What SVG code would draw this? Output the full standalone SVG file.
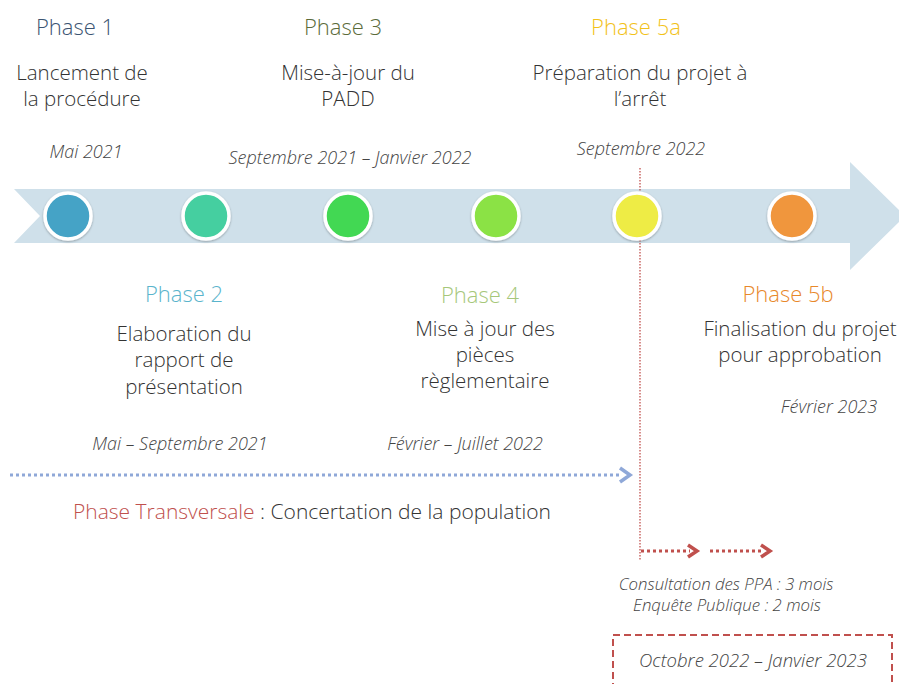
<svg xmlns="http://www.w3.org/2000/svg" width="899" height="684" viewBox="0 0 899 684">
<style>
text{font-family:"Open Sans","Noto Sans","Liberation Sans",sans-serif;text-anchor:middle;font-weight:300;}
.ph{font-size:22px;}
.body{font-size:20.5px;fill:#333;}
.date{font-size:18px;font-style:italic;fill:#444;}
.small{font-size:16.8px;}
.big{font-size:21px;}
.node{stroke:#fff;stroke-width:3.5;}
</style>
<defs>
<filter id="sh" x="-30%" y="-30%" width="160%" height="160%">
<feDropShadow dx="0" dy="1" stdDeviation="1.2" flood-color="#000" flood-opacity="0.3"/>
</filter>
</defs>
<rect width="899" height="684" fill="#fff"/>
<polygon id="band" points="14,189 850,189 850,162 905,216 850,270 850,243 14,243 40,216" fill="#cfe0ea"/>
<g id="connectors">
<line x1="640" y1="168" x2="640" y2="560" stroke="#c0504d" stroke-width="1.3" stroke-dasharray="1.5,1.5"/>
<line x1="10" y1="475" x2="620" y2="475" stroke="#8fa8d8" stroke-width="3" stroke-dasharray="3,3"/>
<polyline points="620,468 630,475 620,482" fill="none" stroke="#8fa8d8" stroke-width="3.5"/>
<line x1="641" y1="551" x2="690" y2="551" stroke="#c0504d" stroke-width="3" stroke-dasharray="3,3"/>
<polyline points="688,545 697,551 688,557" fill="none" stroke="#c0504d" stroke-width="3.5"/>
<line x1="710" y1="551" x2="762" y2="551" stroke="#c0504d" stroke-width="3" stroke-dasharray="3,3"/>
<polyline points="761,545 770,551 761,557" fill="none" stroke="#c0504d" stroke-width="3.5"/>
</g>
<g id="phase1">
<circle class="node" cx="68" cy="216" r="23" fill="#45a3c6" filter="url(#sh)"/>
<text class="ph" x="75" y="35" fill="#3b5472">Phase 1</text>
<text class="body" x="82" y="80">Lancement de</text>
<text class="body" x="82" y="106">la procédure</text>
<text class="date" x="86" y="158">Mai 2021</text>
</g>
<g id="phase2">
<circle class="node" cx="206" cy="216" r="23" fill="#45cfa0" filter="url(#sh)"/>
<text class="ph" x="184" y="302" fill="#5ab4cc">Phase 2</text>
<text class="body" x="184" y="341">Elaboration du</text>
<text class="body" x="184" y="367">rapport de</text>
<text class="body" x="184" y="394">présentation</text>
<text class="date" x="180" y="450">Mai – Septembre 2021</text>
</g>
<g id="phase3">
<circle class="node" cx="348" cy="216" r="23" fill="#42d853" filter="url(#sh)"/>
<text class="ph" x="343" y="35" fill="#5b6b3a">Phase 3</text>
<text class="body" x="348" y="80">Mise-à-jour du</text>
<text class="body" x="348" y="106">PADD</text>
<text class="date" x="350" y="164">Septembre 2021 – Janvier 2022</text>
</g>
<g id="phase4">
<circle class="node" cx="496" cy="216" r="23" fill="#8be244" filter="url(#sh)"/>
<text class="ph" x="480" y="303" fill="#a6c77a">Phase 4</text>
<text class="body" x="485" y="336">Mise à jour des</text>
<text class="body" x="485" y="362">pièces</text>
<text class="body" x="485" y="388">règlementaire</text>
<text class="date" x="465" y="450">Février – Juillet 2022</text>
</g>
<g id="phase5a">
<circle class="node" cx="637" cy="216" r="23" fill="#eeec44" filter="url(#sh)"/>
<text class="ph" x="636" y="35" fill="#f2c21a">Phase 5a</text>
<text class="body" x="640" y="80">Préparation du projet à</text>
<text class="body" x="640" y="106">l’arrêt</text>
<text class="date" x="641" y="155">Septembre 2022</text>
</g>
<g id="phase5b">
<circle class="node" cx="792" cy="216" r="23" fill="#f0963e" filter="url(#sh)"/>
<text class="ph" x="788" y="302" fill="#e8882a">Phase 5b</text>
<text class="body" x="800" y="336">Finalisation du projet</text>
<text class="body" x="800" y="362">pour approbation</text>
<text class="date" x="829" y="413">Février 2023</text>
</g>
<g id="transversale">
<text class="body big" x="312" y="519"><tspan fill="#c0504d">Phase Transversale</tspan> : Concertation de la population</text>
</g>
<g id="consultation">
<text class="date small" x="726" y="590">Consultation des PPA : 3 mois</text>
<text class="date small" x="727" y="611">Enquête Publique : 2 mois</text>
</g>
<g id="periode">
<path d="M613,690 L613,635 L892,635 L892,690" fill="none" stroke="#c0504d" stroke-width="2" stroke-dasharray="7,4"/>
<text class="date" x="753" y="667" style="font-size:18.5px">Octobre 2022 – Janvier 2023</text>
</g>
</svg>
